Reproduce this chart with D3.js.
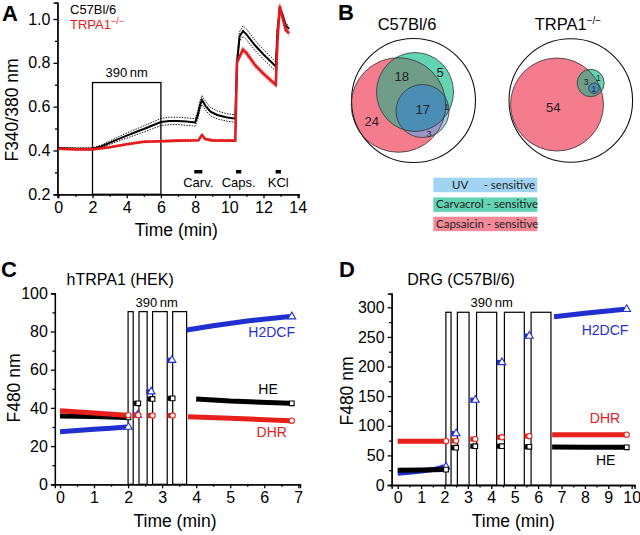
<!DOCTYPE html>
<html>
<head>
<meta charset="utf-8">
<script src="https://cdn.jsdelivr.net/npm/d3@7/dist/d3.min.js"></script>
<style>
  body { margin: 0; background: #fff; }
  svg { font-family: "Liberation Sans", Arial, sans-serif; }
</style>
</head>
<body>
<div id="fig"></div>
<script>
// ---------- panel A: Fura-2 ratio, wild type vs TRPA1 knockout ----------
var wtTime  = [0, 1, 2, 2.5, 3, 3.5, 4, 4.5, 5, 5.5, 6, 6.5, 7, 7.5, 8.0, 8.15, 8.3, 8.4, 8.6, 8.9, 9.3, 9.8, 10.35, 10.45, 10.6, 10.8, 11.0, 11.5, 12.0, 12.5, 12.72, 12.82, 12.95, 13.1, 13.3, 13.5];
var wtRatio = [0.410, 0.408, 0.408, 0.418, 0.435, 0.452, 0.468, 0.483, 0.498, 0.514, 0.530, 0.535, 0.535, 0.532, 0.528, 0.56, 0.61, 0.63, 0.605, 0.577, 0.562, 0.552, 0.545, 0.80, 0.92, 0.945, 0.93, 0.88, 0.838, 0.80, 0.783, 0.95, 1.045, 1.02, 0.97, 0.955];
var wtSem   = [0.004, 0.004, 0.004, 0.006, 0.008, 0.010, 0.012, 0.013, 0.014, 0.015, 0.016, 0.017, 0.017, 0.017, 0.017, 0.018, 0.020, 0.021, 0.020, 0.019, 0.018, 0.017, 0.017, 0.020, 0.022, 0.024, 0.024, 0.023, 0.022, 0.021, 0.020, 0.018, 0.015, 0.014, 0.013, 0.013];
var koTime  = [0, 1, 2, 3, 4, 5, 6, 7, 8.2, 8.4, 8.6, 9, 10.35, 10.45, 10.55, 10.8, 11.0, 11.5, 12, 12.5, 12.72, 12.82, 12.95, 13.1, 13.3, 13.5];
var koRatio = [0.408, 0.405, 0.405, 0.415, 0.428, 0.440, 0.442, 0.445, 0.447, 0.470, 0.452, 0.446, 0.445, 0.80, 0.82, 0.860, 0.845, 0.790, 0.75, 0.715, 0.700, 0.90, 1.06, 1.01, 0.95, 0.935];
var koSem   = [0.003, 0.003, 0.003, 0.004, 0.004, 0.005, 0.005, 0.005, 0.005, 0.006, 0.005, 0.005, 0.005, 0.010, 0.012, 0.014, 0.014, 0.013, 0.012, 0.011, 0.011, 0.012, 0.012, 0.012, 0.011, 0.011];
var stimNames = ["Carv.", "Caps.", "KCl"];
var stimStart = [7.95, 10.39, 12.71];
var stimEnd   = [8.42, 10.70, 13.02];
var uvWindowA = [2, 6];
var uvTopA = 0.71;

// ---------- panel B: Venn counts ----------
var vennTitles = ["C57Bl/6", "TRPA1"];
var wtCounts = [24, 18, 5, 17, 1, 3];
var koCounts = [54, 3, 1, 1];
var legendLabels = ["UV", "Carvacrol - sensitive", "Capsaicin - sensitive"];

// ---------- panel C: hTRPA1 (HEK) ----------
var cSeries = ["H2DCF", "HE", "DHR"];
var cPre = [
  [[0, 27.5], [0.5, 28.2], [1, 28.8], [1.5, 29.4], [1.95, 30]],
  [[0, 35.8], [1, 35.5], [1.95, 35.0]],
  [[0, 38.5], [1, 37.3], [1.95, 36.2]]
];
var cGap = [
  [[2.22, 36.3], [2.62, 48.5], [3.23, 65]],
  [[2.24, 42.4], [2.66, 44.7], [3.25, 45]],
  [[2.24, 36.2], [2.66, 36.0], [3.25, 36.0]]
];
var cPost = [
  [[3.72, 80.8], [4.5, 83], [5.5, 85.5], [6.75, 87.8]],
  [[4.0, 44.7], [5, 43.6], [6.75, 42.4]],
  [[3.76, 35.4], [5, 34.6], [6.75, 33.3]]
];
var cUvStart = [2.0, 2.32, 2.72, 3.31];
var cUvEnd   = [2.15, 2.56, 3.15, 3.72];
var cUvTop = 90.4;

// ---------- panel D: DRG (C57Bl/6) ----------
var dSeries = ["H2DCF", "HE", "DHR"];
var dPre = [
  [[0, 20], [0.5, 21.5], [1, 23.5], [1.5, 26], [1.8, 28.5], [1.98, 31]],
  [[0, 25], [1, 25.5], [1.98, 26]],
  [[0, 74], [1, 74], [1.98, 74]]
];
var dGap = [
  [[2.41, 87], [3.23, 143.5], [4.37, 207], [5.54, 251.6]],
  [[2.41, 63], [3.23, 65.5], [4.37, 65.5], [5.54, 64.5]],
  [[2.41, 74.5], [3.23, 77.5], [4.37, 80.5], [5.54, 82.5]]
];
var dPost = [
  [[6.68, 284], [8, 290], [9.7, 296.6]],
  [[6.6, 64], [8, 63.8], [9.7, 63.6]],
  [[6.6, 85], [8, 85], [9.7, 85]]
];
var dUvStart = [2.06, 2.55, 3.37, 4.56, 5.70];
var dUvEnd   = [2.28, 3.05, 4.23, 5.41, 6.55];
var dUvTop = 291.6;

// ---------- drawing ----------
var W = 640, H = 535;
var seriesColor = { "H2DCF": "#1f2fd0", "HE": "#000000", "DHR": "#e8201c" };
var seriesShape = { "H2DCF": d3.symbolTriangle, "HE": d3.symbolSquare, "DHR": d3.symbolCircle };

var svg = d3.select("#fig")
  .append("svg")
    .attr("width", W)
    .attr("height", H);

var defs = svg.append("defs");

// helper: axis with major + minor ticks
function drawAxes(g, xs, ys, xMajor, xMinor, yMajor, yMinor, xFmt, yFmt) {
  var yAxisPos = xs.range()[0];
  var xAxisPos = ys.range()[0];
  g.append("g")
      .attr("class", "axis")
      .attr("transform", "translate(0," + xAxisPos + ")")
      .call(d3.axisBottom(xs).tickValues(xMajor).tickFormat(xFmt).tickSizeOuter(0).tickSize(4).tickPadding(3));
  g.append("g")
      .attr("class", "axis minor")
      .attr("transform", "translate(0," + xAxisPos + ")")
      .call(d3.axisBottom(xs).tickValues(xMinor).tickFormat("").tickSizeOuter(0).tickSize(2.5));
  g.append("g")
      .attr("class", "axis")
      .attr("transform", "translate(" + yAxisPos + ",0)")
      .call(d3.axisLeft(ys).tickValues(yMajor).tickFormat(yFmt).tickSizeOuter(0).tickSize(4).tickPadding(3));
  g.append("g")
      .attr("class", "axis minor")
      .attr("transform", "translate(" + yAxisPos + ",0)")
      .call(d3.axisLeft(ys).tickValues(yMinor).tickFormat("").tickSizeOuter(0).tickSize(2.5));
  g.selectAll(".axis path, .axis line").attr("stroke", "#000").attr("stroke-width", 1.3);
  g.selectAll(".axis text").attr("font-size", 16).attr("fill", "#000")
    .attr("font-family", "'Liberation Sans', Arial, sans-serif");
}

function panelLetter(txt, x, y) {
  svg.append("text")
      .attr("x", x).attr("y", y)
      .attr("font-size", 22).attr("font-weight", "bold")
      .text(txt);
}

// ===== Panel A =====
var gA = svg.append("g");
var xA = d3.scaleLinear().domain([0, 14]).range([58.3, 297.7]);
var yA = d3.scaleLinear().domain([0.2, 1.0]).range([194.3, 19]);
var xAaxis = xA.copy().domain([-0.05, 14.05]).range([xA(-0.05), xA(14.05)]);
var yAaxis = yA.copy().domain([0.2, 1.075]).range([yA(0.2), yA(1.075)]);

drawAxes(gA, xAaxis, yAaxis,
  d3.range(0, 15, 2), d3.range(1, 14, 2),
  [0.2, 0.4, 0.6, 0.8, 1.0], [0.3, 0.5, 0.7, 0.9],
  d3.format("d"), d3.format(".1f"));

// 390 nm box
gA.append("rect")
    .attr("x", xA(uvWindowA[0]))
    .attr("y", yA(uvTopA))
    .attr("width", xA(uvWindowA[1]) - xA(uvWindowA[0]))
    .attr("height", yA(0.2) - yA(uvTopA))
    .attr("fill", "none").attr("stroke", "#000").attr("stroke-width", 1.3);
gA.append("text")
    .attr("x", xA((uvWindowA[0] + uvWindowA[1]) / 2)).attr("y", 77.3)
    .attr("text-anchor", "middle").attr("font-size", 13)
    .text("390\u2009nm");

function trace(tArr, vArr, off) {
  return d3.line()
    .x(function(d, i) { return xA(tArr[i]); })
    .y(function(d, i) { return yA(vArr[i] + (off ? off[i] : 0)); })(tArr);
}
function neg(a) { return a.map(function(v) { return -v; }); }

// knockout (red) with sem
gA.append("path").attr("d", trace(koTime, koRatio, koSem))
    .attr("fill", "none").attr("stroke", "#f06060").attr("stroke-width", 0.9).attr("stroke-dasharray", "1.5,1.2");
gA.append("path").attr("d", trace(koTime, koRatio, neg(koSem)))
    .attr("fill", "none").attr("stroke", "#f06060").attr("stroke-width", 0.9).attr("stroke-dasharray", "1.5,1.2");
// wild type (black) with sem
gA.append("path").attr("d", trace(wtTime, wtRatio, wtSem))
    .attr("fill", "none").attr("stroke", "#000").attr("stroke-width", 0.9).attr("stroke-dasharray", "1.5,1.2");
gA.append("path").attr("d", trace(wtTime, wtRatio, neg(wtSem)))
    .attr("fill", "none").attr("stroke", "#000").attr("stroke-width", 0.9).attr("stroke-dasharray", "1.5,1.2");
gA.append("path").attr("d", trace(wtTime, wtRatio))
    .attr("fill", "none").attr("stroke", "#000").attr("stroke-width", 2);
gA.append("path").attr("d", trace(koTime, koRatio))
    .attr("fill", "none").attr("stroke", "#e41a1c").attr("stroke-width", 2.6);

// stimulus bars
gA.selectAll(".stim")
    .data(stimNames)
    .enter()
    .append("rect")
      .attr("x", function(d, i) { return xA(stimStart[i]); })
      .attr("y", 170)
      .attr("width", function(d, i) { return xA(stimEnd[i]) - xA(stimStart[i]); })
      .attr("height", 3.5)
      .attr("fill", "#000");
gA.selectAll(".stimLabel")
    .data(stimNames)
    .enter()
    .append("text")
      .attr("x", function(d, i) { return xA((stimStart[i] + stimEnd[i]) / 2); })
      .attr("y", 186.7)
      .attr("text-anchor", "middle").attr("font-size", 13)
      .text(function(d) { return d; });

// legend
gA.append("text").attr("x", 70).attr("y", 14).attr("font-size", 13).text("C57Bl/6");
var koLbl = gA.append("text").attr("x", 70).attr("y", 28.5).attr("font-size", 13).attr("fill", "#e41a1c");
koLbl.append("tspan").text("TRPA1");
koLbl.append("tspan").attr("dy", -5).attr("font-size", 9).text("\u2212/\u2212");

// axis titles
gA.append("text")
    .attr("transform", "translate(18,110) rotate(-90)")
    .attr("text-anchor", "middle").attr("font-size", 17.5)
    .text("F340/380 nm");
gA.append("text")
    .attr("x", xA(6.9)).attr("y", 236)
    .attr("text-anchor", "middle").attr("font-size", 17.5)
    .text("Time (min)");
panelLetter("A", 2, 21);

// ===== Panel B: Venn diagrams =====
var vennCol = {
  pink: "#f47c8c", green: "#63d3b4", greenPink: "#6f9d87",
  blue: "#a6cfec", bluePink: "#9c95c6", blueGreen: "#5fa9cb", blueAll: "#4a8eb6"
};
// geometry of the drawn shapes (layout, not data)
var vennShapes = [
  { outer: [413.5, 100.5, 62], pink: [398.5, 105, 47.3], green: [415, 92, 38.5, 39.5], blue: [422.5, 111, 26.5] },
  { outer: [570.8, 100.5, 61.8], pink: [557, 104.5, 46.5], green: [590.7, 83, 13.5, 13.7], blue: [594, 88.3, 5.3] }
];
var wtLabelPos = [[371.7, 121], [401.7, 76], [440, 72], [422.7, 109.5], [446.7, 106.5], [429, 133.5]];
var wtLabelSize = [13, 13, 13, 13, 9, 9];
var koLabelPos = [[553.3, 107], [586, 82], [598.3, 78.5], [593.9, 88.6]];
var koLabelSize = [13, 8.5, 8.5, 8.5];

function drawVenn(s, id) {
  var g = svg.append("g");
  var clip = function(name, shapeFn) {
    var cp = defs.append("clipPath").attr("id", id + name);
    shapeFn(cp);
  };
  var circ = function(sel, c) { return sel.append("circle").attr("cx", c[0]).attr("cy", c[1]).attr("r", c[2]); };
  var ell = function(sel, c) { return sel.append("ellipse").attr("cx", c[0]).attr("cy", c[1]).attr("rx", c[2]).attr("ry", c[3]); };
  clip("pink", function(cp) { circ(cp, s.pink); });
  clip("green", function(cp) { ell(cp, s.green); });

  circ(g, s.outer).attr("fill", "#fff");
  circ(g, s.pink).attr("fill", vennCol.pink);
  ell(g, s.green).attr("fill", vennCol.green);
  ell(g.append("g").attr("clip-path", "url(#" + id + "pink)"), s.green).attr("fill", vennCol.greenPink);
  circ(g, s.blue).attr("fill", vennCol.blue);
  circ(g.append("g").attr("clip-path", "url(#" + id + "pink)"), s.blue).attr("fill", vennCol.bluePink);
  circ(g.append("g").attr("clip-path", "url(#" + id + "green)"), s.blue).attr("fill", vennCol.blueGreen);
  circ(g.append("g").attr("clip-path", "url(#" + id + "pink)").append("g").attr("clip-path", "url(#" + id + "green)"), s.blue)
      .attr("fill", vennCol.blueAll);
  // outlines
  circ(g, s.outer).attr("fill", "none").attr("stroke", "#111").attr("stroke-width", 1.1);
  circ(g, s.pink).attr("fill", "none").attr("stroke", "#333").attr("stroke-width", 0.8);
  ell(g, s.green).attr("fill", "none").attr("stroke", "#333").attr("stroke-width", 0.8);
  circ(g, s.blue).attr("fill", "none").attr("stroke", "#333").attr("stroke-width", 0.8);
  return g;
}

var gB1 = drawVenn(vennShapes[0], "vw");
gB1.selectAll(".cnt")
    .data(wtCounts)
    .enter()
    .append("text")
      .attr("x", function(d, i) { return wtLabelPos[i][0]; })
      .attr("y", function(d, i) { return wtLabelPos[i][1]; })
      .attr("dy", "0.35em")
      .attr("text-anchor", "middle")
      .attr("font-size", function(d, i) { return wtLabelSize[i]; })
      .attr("fill", "#222")
      .text(function(d) { return d; });
var gB2 = drawVenn(vennShapes[1], "vk");
gB2.selectAll(".cnt")
    .data(koCounts)
    .enter()
    .append("text")
      .attr("x", function(d, i) { return koLabelPos[i][0]; })
      .attr("y", function(d, i) { return koLabelPos[i][1]; })
      .attr("dy", "0.35em")
      .attr("text-anchor", "middle")
      .attr("font-size", function(d, i) { return koLabelSize[i]; })
      .attr("fill", "#222")
      .text(function(d) { return d; });

svg.append("text").attr("x", 407).attr("y", 30).attr("text-anchor", "middle").attr("font-size", 16.5).text(vennTitles[0]);
var koHead = svg.append("text").attr("x", 568).attr("y", 30).attr("text-anchor", "middle").attr("font-size", 16.5);
koHead.append("tspan").text(vennTitles[1]);
koHead.append("tspan").attr("dy", -6).attr("font-size", 10).text("\u2212/\u2212");
panelLetter("B", 338, 20);

// legend boxes
var legCols = ["#a0d4f2", "#62d4b3", "#f48a99"];
var legY = [177.7, 197.4, 216.7];
svg.selectAll(".legBox")
    .data(legendLabels)
    .enter()
    .append("rect")
      .attr("x", 433.3).attr("y", function(d, i) { return legY[i]; })
      .attr("width", 104).attr("height", 14.5)
      .attr("fill", function(d, i) { return legCols[i]; });
var legTxt = svg.append("g").attr("font-family", "Lato, 'Open Sans', sans-serif").attr("font-size", 11.5).attr("fill", "#222");
legTxt.append("text").attr("x", 452).attr("y", legY[0] + 11).text(legendLabels[0]);
legTxt.append("text").attr("x", 535).attr("y", legY[0] + 11).attr("text-anchor", "end").text("- sensitive");
legTxt.append("text").attr("x", 436).attr("y", legY[1] + 11).text(legendLabels[1]);
legTxt.append("text").attr("x", 436).attr("y", legY[2] + 11).text(legendLabels[2]);

// ===== Panels C and D =====
function drawFluo(cfg) {
  var g = svg.append("g");
  var xs = cfg.x, ys = cfg.y;
  drawAxes(g, cfg.xAxis, cfg.yAxis, cfg.xMajor, cfg.xMinor, cfg.yMajor, cfg.yMinor, d3.format("d"), d3.format("d"));

  // 390 nm illumination windows
  g.selectAll(".uv")
      .data(cfg.uvStart)
      .enter()
      .append("rect")
        .attr("x", function(d) { return xs(d); })
        .attr("y", ys(cfg.uvTop))
        .attr("width", function(d, i) { return xs(cfg.uvEnd[i]) - xs(d); })
        .attr("height", ys(0) - ys(cfg.uvTop))
        .attr("fill", "#fff").attr("stroke", "#000").attr("stroke-width", 1.2);
  g.append("text")
      .attr("x", cfg.uvLabel[0]).attr("y", cfg.uvLabel[1])
      .attr("text-anchor", "middle").attr("font-size", 13)
      .text("390\u2009nm");

  var line = d3.line().x(function(d) { return xs(d[0]); }).y(function(d) { return ys(d[1]); });
  cfg.names.forEach(function(name, k) {
    var col = seriesColor[name];
    var sym = d3.symbol().type(seriesShape[name]).size(seriesShape[name] === d3.symbolTriangle ? 26 : 22);
    [cfg.pre[k], cfg.post[k]].forEach(function(seg) {
      g.append("path").attr("d", line(seg))
          .attr("fill", "none").attr("stroke", col).attr("stroke-width", 5);
      var last = seg[seg.length - 1];
      g.append("path").attr("d", sym())
          .attr("transform", "translate(" + (xs(last[0]) + 2) + "," + ys(last[1]) + ")")
          .attr("fill", "#fff").attr("stroke", col).attr("stroke-width", 1.1);
    });
    // single samples between illumination windows
    g.selectAll(".gap" + k)
        .data(cfg.gap[k])
        .enter()
        .append("rect")
          .attr("x", function(d) { return xs(d[0]) - 3; })
          .attr("y", function(d) { return ys(d[1]) - 2.5; })
          .attr("width", 3).attr("height", 5)
          .attr("fill", col);
    g.selectAll(".gapm" + k)
        .data(cfg.gap[k])
        .enter()
        .append("path")
          .attr("d", sym())
          .attr("transform", function(d) { return "translate(" + (xs(d[0]) + 2) + "," + ys(d[1]) + ")"; })
          .attr("fill", "#fff").attr("stroke", col).attr("stroke-width", 1.1);
    g.append("text")
        .attr("x", cfg.labelPos[k][0]).attr("y", cfg.labelPos[k][1])
        .attr("text-anchor", "middle").attr("font-size", 14).attr("fill", col)
        .text(name);
  });

  g.append("text")
      .attr("transform", "translate(" + cfg.yTitle[0] + "," + cfg.yTitle[1] + ") rotate(-90)")
      .attr("text-anchor", "middle").attr("font-size", 17.5)
      .text("F480 nm");
  g.append("text")
      .attr("x", cfg.xTitle[0]).attr("y", cfg.xTitle[1])
      .attr("text-anchor", "middle").attr("font-size", 17.5)
      .text("Time (min)");
  g.append("text")
      .attr("x", cfg.title[0]).attr("y", cfg.title[1])
      .attr("font-size", 16)
      .text(cfg.titleText);
}

var xC = d3.scaleLinear().domain([0, 7]).range([60, 298.3]);
var yC = d3.scaleLinear().domain([0, 100]).range([484.3, 293.3]);
drawFluo({
  x: xC, y: yC,
  xAxis: xC.copy().domain([-0.15, 7.05]).range([xC(-0.15), xC(7.05)]),
  yAxis: yC,
  xMajor: d3.range(0, 8), xMinor: d3.range(0.5, 7, 1),
  yMajor: d3.range(0, 101, 20), yMinor: d3.range(10, 100, 20),
  uvStart: cUvStart, uvEnd: cUvEnd, uvTop: cUvTop, uvLabel: [156.7, 306.7],
  names: cSeries, pre: cPre, gap: cGap, post: cPost,
  labelPos: [[271.7, 337], [268, 394], [271.7, 437.3]],
  yTitle: [20, 388], xTitle: [175, 526.5], title: [66.5, 285], titleText: "hTRPA1 (HEK)"
});
panelLetter("C", 1, 277);

var xD = d3.scaleLinear().domain([0, 10]).range([397.7, 631.7]);
var yD = d3.scaleLinear().domain([0, 300]).range([485, 307.3]);
drawFluo({
  x: xD, y: yD,
  xAxis: xD.copy().domain([-0.26, 10.12]).range([xD(-0.26), xD(10.12)]),
  yAxis: yD.copy().domain([0, 323]).range([yD(0), yD(323)]),
  xMajor: d3.range(0, 11), xMinor: d3.range(0.5, 10, 1),
  yMajor: d3.range(0, 301, 50), yMinor: d3.range(25, 300, 50),
  uvStart: dUvStart, uvEnd: dUvEnd, uvTop: dUvTop, uvLabel: [491.7, 306.7],
  names: dSeries, pre: dPre, gap: dGap, post: dPost,
  labelPos: [[605, 335], [605.7, 465], [605, 423.3]],
  yTitle: [353, 391], xTitle: [513.3, 526.5], title: [407.3, 285], titleText: "DRG (C57Bl/6)"
});
panelLetter("D", 339, 277);
</script>
</body>
</html>
